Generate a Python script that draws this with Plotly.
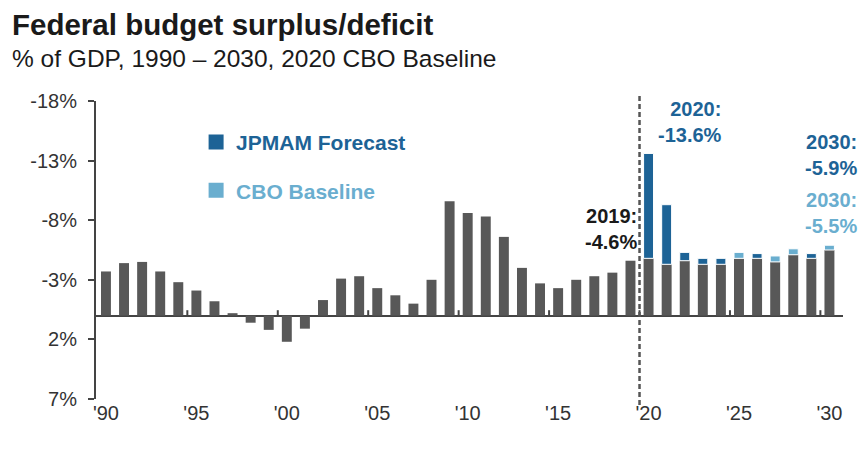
import plotly.graph_objects as go

# Federal budget balance, % of GDP (negative = deficit)
years = list(range(1990, 2031))
balance = [
    -3.7, -4.4, -4.5, -3.7, -2.8, -2.1, -1.2, -0.2, 0.6, 1.2,
    2.2, 1.1, -1.3, -3.1, -3.3, -2.3, -1.7, -1.0, -3.0, -9.6,
    -8.6, -8.3, -6.6, -4.0, -2.7, -2.3, -3.0, -3.3, -3.6, -4.6,
    -4.8, -4.3, -4.6, -4.3, -4.3, -4.8, -4.8, -4.5, -5.1, -4.8,
    -5.5,
]

# Forecast extensions above the base bar, 2020-2030
forecast_years = list(range(2020, 2031))
forecast_top = [-13.6, -9.3, -5.3, -4.8, -4.8, -5.3, -5.2, -5.0, -5.6, -5.2, -5.9]
forecast_source = ["JPMAM", "JPMAM", "JPMAM", "JPMAM", "JPMAM", "CBO",
                   "JPMAM", "CBO", "CBO", "JPMAM", "CBO"]

y_ticks = [-18, -13, -8, -3, 2, 7]
y_tick_text = ["-18%", "-13%", "-8%", "-3%", "2%", "7%"]
x_ticks = list(range(1990, 2031, 5))
x_tick_text = ["'90", "'95", "'00", "'05", "'10", "'15", "'20", "'25", "'30"]
zero_line_ticks = [y + 0.5 for y in range(1994, 2030, 5)]

GRAY = "#585858"
DARK_BLUE = "#1d6396"
LIGHT_BLUE = "#6aaecf"
AXIS = "#444444"
FONT = "Liberation Sans, Arial, sans-serif"

fig = go.Figure()

fig.add_trace(go.Bar(
    x=years, y=balance, width=0.55, marker_color=GRAY,
    marker_line_width=0, showlegend=False, hoverinfo="x+y",
))

base_lookup = dict(zip(years, balance))


def segment_trace(source, color):
    xs, ys, bases = [], [], []
    for yr, top, src in zip(forecast_years, forecast_top, forecast_source):
        if src == source:
            xs.append(yr)
            bases.append(base_lookup[yr])
            ys.append(top - base_lookup[yr])
    return go.Bar(
        x=xs, y=ys, base=bases, width=0.55, showlegend=False,
        marker=dict(color=color, line=dict(color="white", width=1)),
    )


fig.add_trace(segment_trace("JPMAM", DARK_BLUE))
fig.add_trace(segment_trace("CBO", LIGHT_BLUE))

# legend entries with square swatches
for name, color, group in [("JPMAM Forecast", DARK_BLUE, "j"),
                           ("CBO Baseline", LIGHT_BLUE, "c")]:
    fig.add_trace(go.Scatter(
        x=[None], y=[None], mode="markers", legendgroup=group,
        name=f"<b><span style='color:{color}'>{name}</span></b>",
        marker=dict(symbol="square", size=15, color=color),
    ))

x_range = [1989.45, 2030.75]
y_range = [7, -18]

fig.update_layout(
    width=866, height=449,
    margin=dict(l=96, r=23, t=101, b=50),
    paper_bgcolor="white", plot_bgcolor="white",
    barmode="overlay",
    font=dict(family=FONT, color="#333333"),
    title=dict(
        text="<b>Federal budget surplus/deficit</b>",
        font=dict(size=29.5, color="#1a1a1a", family=FONT),
        x=12 / 866, xanchor="left", xref="container",
        y=1 - 25 / 449, yanchor="middle", yref="container",
    ),
    xaxis=dict(
        range=x_range, tickvals=x_ticks, ticktext=x_tick_text,
        showline=False, showgrid=False, zeroline=False, ticks="",
        tickfont=dict(size=20, color="#333333"),
    ),
    yaxis=dict(
        range=y_range, tickvals=y_ticks, ticktext=y_tick_text,
        showline=True, linecolor=AXIS, linewidth=2,
        ticks="outside", ticklen=6, tickwidth=2, tickcolor=AXIS,
        showgrid=False, zeroline=True, zerolinecolor=AXIS, zerolinewidth=2,
        ticklabelstandoff=7,
        tickfont=dict(size=20, color="#333333"),
    ),
    legend=dict(
        x=0.134, xanchor="left", y=0.93, yanchor="top",
        bgcolor="rgba(0,0,0,0)", traceorder="grouped", tracegroupgap=18,
        font=dict(size=21),
    ),
    showlegend=True,
)

# small upward tick marks on the zero line every five years
for xt in zero_line_ticks:
    fig.add_shape(
        type="line", x0=xt, x1=xt, xref="x", yref="y", y0=0, y1=-0.45,
        line=dict(color=AXIS, width=2), layer="above",
    )

# subtitle
fig.add_annotation(
    text="% of GDP, 1990 \u2013 2030, 2020 CBO Baseline",
    xref="paper", yref="paper", x=(10 - 96) / 747, y=(399 - 58) / 298,
    xanchor="left", yanchor="middle", showarrow=False,
    font=dict(size=24.5, color="#1a1a1a"),
)

# divider between history and forecast
fig.add_shape(
    type="line", x0=2019.5, x1=2019.5, xref="x", yref="paper",
    y0=-0.02, y1=1.02, line=dict(color="#555555", width=2.5, dash="5px,3px"),
)

# value callouts (x in paper units, right edge)
labels = [
    ("2019:<br>-4.6%", (639 - 96) / 747, -7.26, "#1a1a1a"),
    ("2020:<br>-13.6%", (724 - 96) / 747, -16.24, DARK_BLUE),
    ("2030:<br>-5.9%", (859 - 96) / 747, -13.47, DARK_BLUE),
    ("2030:<br>-5.5%", (859 - 96) / 747, -8.6, LIGHT_BLUE),
]
for text, x, y, color in labels:
    fig.add_annotation(
        text=f"<b>{text}</b>", x=x, y=y, xref="paper", yref="y",
        xanchor="right", yanchor="middle", align="right", showarrow=False,
        font=dict(size=20, color=color),
    )

fig.write_html("out.html")
